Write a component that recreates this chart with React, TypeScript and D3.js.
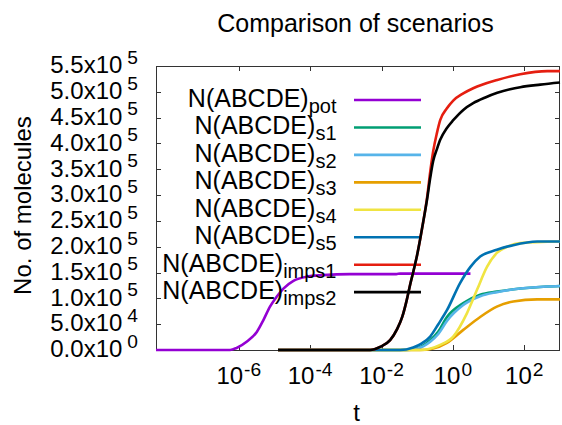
import React from "react";
import * as d3 from "d3";

// ---- data (t, N) ----
const potT = [4.8e-9, 5.7e-7, 8.7e-7, 1.66e-6, 3.2e-6, 4.9e-6, 7.5e-6, 1.15e-5, 1.78e-5, 3.4e-5, 7.9e-5, 2.3e-4, 1.3e-3, 0.026, 0.033, 3.1];
const potN = [0, 0, 4000, 16000, 35000, 58000, 84000, 103000, 119000, 134000, 142000, 145000, 147000, 147000, 148000, 148000];

const s1T = [1.26e-5, 0.046, 0.098, 0.231, 0.39, 0.68, 1.95, 5.8, 17, 77, 430, 1000];
const s1N = [0, 0, 3000, 19000, 36000, 64000, 91000, 107000, 113000, 119000, 123000, 124000];

const s2T = [1.26e-5, 0.046, 0.098, 0.231, 0.39, 0.68, 1.95, 5.8, 17, 77, 430, 1000];
const s2N = [0, 0, 2500, 16000, 31000, 56000, 87000, 104000, 112000, 119000, 123000, 124000];

const s3T = [1.26e-5, 0.12, 0.28, 0.68, 1.95, 5.8, 17, 49, 230, 1000];
const s3N = [0, 0, 3000, 14000, 39000, 64000, 84000, 94000, 98000, 98000];

const s4T = [1.26e-5, 0.12, 0.44, 1.02, 2.5, 4.7, 9.0, 17, 33, 77, 1000];
const s4N = [0, 0, 10000, 26000, 72000, 116000, 161000, 188000, 200000, 207000, 210000];

const s5T = [1.26e-5, 0.033, 0.077, 0.135, 0.231, 0.39, 0.68, 1.6, 3.1, 5.8, 17, 49, 230, 1000];
const s5N = [0, 0, 5000, 13000, 26000, 50000, 77000, 130000, 161000, 181000, 194000, 203000, 210000, 210000];

const imps1T = [1.26e-5, 4.8e-3, 9.1e-3, 0.0174, 0.0275, 0.038, 0.051, 0.063, 0.0785, 0.098, 0.121, 0.147, 0.187, 0.231, 0.28, 0.356, 0.44, 0.68, 1.02, 1.95, 3.7, 17.5, 77, 440, 1000];
const imps1N = [0, 0, 6000, 19000, 41000, 64000, 97000, 126000, 153000, 182000, 215000, 248000, 293000, 345000, 385000, 420000, 445000, 468000, 483000, 497000, 507000, 523000, 534000, 540000, 540000];

const imps2T = [1.26e-5, 4.8e-3, 9.1e-3, 0.0174, 0.0275, 0.038, 0.051, 0.063, 0.0785, 0.098, 0.121, 0.147, 0.187, 0.231, 0.28, 0.356, 0.44, 0.68, 1.02, 1.95, 3.7, 8.1, 17.5, 40, 77, 280, 1000];
const imps2N = [0, 0, 6000, 19000, 41000, 64000, 97000, 126000, 153000, 182000, 215000, 248000, 290000, 333000, 366000, 389000, 407000, 430000, 445000, 465000, 478000, 489000, 498000, 505000, 509000, 514000, 518000];

const seriesNames = ["pot", "s1", "s2", "s3", "s4", "s5", "imps1", "imps2"];
const seriesColors = ["#9400d3", "#009e73", "#56b4e9", "#e69f00", "#f0e442", "#0072b2", "#e51e10", "#000000"];
const seriesT = [potT, s1T, s2T, s3T, s4T, s5T, imps1T, imps2T];
const seriesN = [potN, s1N, s2N, s3N, s4N, s5N, imps1N, imps2N];

const xTickExps = [-6, -4, -2, 0, 2];
const yTickValues = [0, 50000, 100000, 150000, 200000, 250000, 300000, 350000, 400000, 450000, 500000, 550000];

const titleText = "Comparison of scenarios";
const xLabel = "t";
const yLabel = "No. of molecules";
const legendBase = "N(ABCDE)";

const FONT = "'Liberation Sans', Arial, Helvetica, sans-serif";

export default function App() {
  const W = 562, H = 425;
  const left = 156, right = 560, top = 66, bottom = 350;
  const x = d3.scaleLog().domain([4.8e-9, 1000]).range([left, right]);
  const y = d3.scaleLinear().domain([0, 550000]).range([bottom, top]);

  const line = (ts: number[], ns: number[]) =>
    d3.line<number>()
      .x((_, i) => x(ts[i]))
      .y((d) => y(d))
      .curve(d3.curveMonotoneX)(ns) || "";

  const tickLen = 5;
  const frameColor = "#333";

  const legendX1 = 354, legendX2 = 421, legendTextX = 336.5;
  const legendY0 = 100, legendStep = 27.45;

  return (
    <svg width={W} height={H} style={{ position: "absolute", left: 0, top: 0, background: "#fff" }} fontFamily={FONT}>
      <rect x={0} y={0} width={W} height={H} fill="#fff" />
      {/* title */}
      <text x={355.5} y={31.5} fontSize={25} textAnchor="middle" fill="#000">{titleText}</text>

      {/* y ticks */}
      {yTickValues.map((v, i) => {
        const yy = Math.round(y(v)) + 0.5;
        const exp = v === 0 ? 0 : Math.floor(Math.log10(v));
        const mant = v === 0 ? 0 : v / Math.pow(10, exp);
        return (
          <g key={"yt" + i}>
            <line x1={left} x2={left + tickLen} y1={yy} y2={yy} stroke={frameColor} strokeWidth={1} />
            <line x1={right - tickLen} x2={right} y1={yy} y2={yy} stroke={frameColor} strokeWidth={1} />
            <text x={138} y={y(v) + 7.3} fontSize={24} textAnchor="end" fill="#000">
              {mant.toFixed(1) + "x10"}
              <tspan fontSize={19.2} dx={5} dy={-9.5}>{String(exp)}</tspan>
            </text>
          </g>
        );
      })}

      {/* x ticks */}
      {xTickExps.map((e, i) => {
        const xx = Math.round(x(Math.pow(10, e))) + 0.5;
        return (
          <g key={"xt" + i}>
            <line x1={xx} x2={xx} y1={bottom} y2={bottom - tickLen} stroke={frameColor} strokeWidth={1} />
            <line x1={xx} x2={xx} y1={top} y2={top + tickLen} stroke={frameColor} strokeWidth={1} />
            <text x={x(Math.pow(10, e))} y={384.3} fontSize={24} textAnchor="middle" fill="#000">
              {"10"}
              <tspan fontSize={19.2} dx={1} dy={-8.6}>{String(e)}</tspan>
            </text>
          </g>
        );
      })}

      {/* frame */}
      <rect x={left + 0.5} y={top + 0.5} width={right - left - 1} height={bottom - top} fill="none" stroke={frameColor} strokeWidth={1} />

      {/* axis labels */}
      <text x={356.5} y={421} fontSize={24} textAnchor="middle" fill="#000">{xLabel}</text>
      <text transform={`translate(30.5,205.5) rotate(-90)`} fontSize={24} textAnchor="middle" fill="#000">{yLabel}</text>

      {/* series and legend */}
      {seriesNames.map((name, i) => {
        const ly = legendY0 + i * legendStep;
        return (
          <g key={"s" + i}>
            <text x={legendTextX} y={ly + 7} fontSize={25} textAnchor="end" fill="#000">
              {legendBase}
              <tspan fontSize={20} dy={6}>{name}</tspan>
            </text>
            <line x1={legendX1} x2={legendX2} y1={ly} y2={ly} stroke={seriesColors[i]} strokeWidth={2.6} />
            <path d={line(seriesT[i], seriesN[i])} fill="none" stroke={seriesColors[i]} strokeWidth={2.6} strokeLinejoin="round" />
          </g>
        );
      })}
    </svg>
  );
}
